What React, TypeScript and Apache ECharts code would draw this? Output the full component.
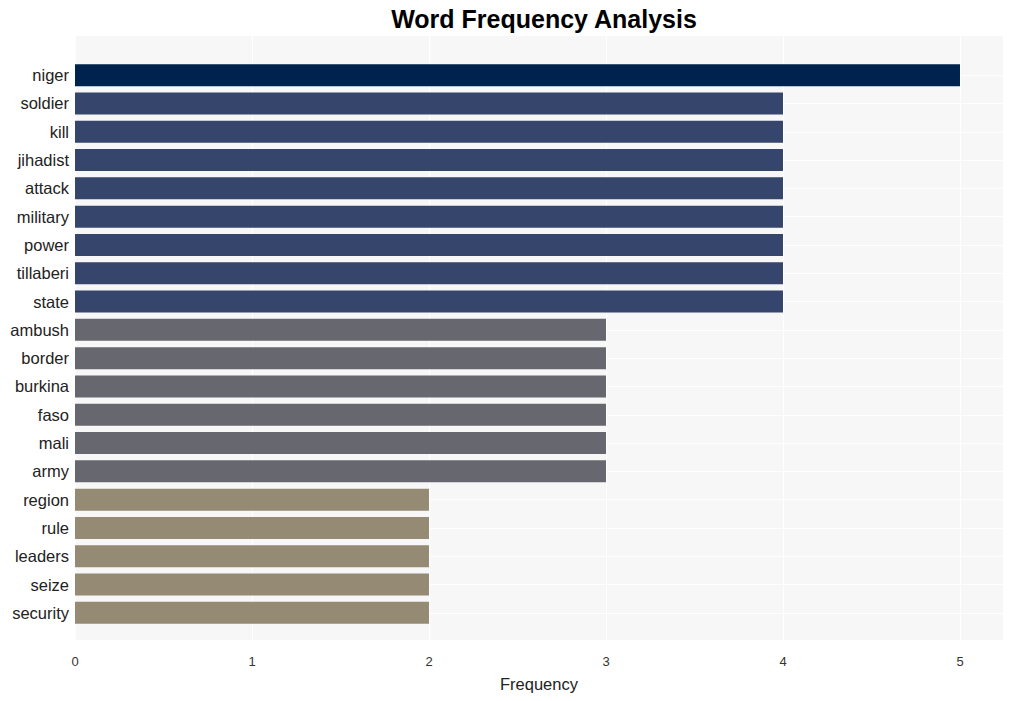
import React, { useEffect, useRef } from "react";
import * as echarts from "echarts";

const categories = [
  "niger", "soldier", "kill", "jihadist", "attack", "military", "power", "tillaberi", "state",
  "ambush", "border", "burkina", "faso", "mali", "army",
  "region", "rule", "leaders", "seize", "security",
];
const frequencies = [5, 4, 4, 4, 4, 4, 4, 4, 4, 3, 3, 3, 3, 3, 3, 2, 2, 2, 2, 2];
const xTicks = [0, 1, 2, 3, 4, 5];

const colorFor = (v: number) =>
  v >= 5 ? "#00224e" : v >= 4 ? "#35456b" : v >= 3 ? "#67686f" : "#958b75";

export default function App() {
  const ref = useRef<HTMLDivElement>(null);
  useEffect(() => {
    if (!ref.current) return;
    const chart = echarts.init(ref.current, null, { renderer: "svg" });
    const xMax = 5.243;
    const font = "'Liberation Sans', Arial, sans-serif";
    chart.setOption({
      animation: false,
      textStyle: { fontFamily: font },
      title: {
        text: "Word Frequency Analysis",
        left: 539,
        top: 1,
        textAlign: "center",
        textStyle: { fontSize: 25, fontWeight: "bold", color: "#000", fontFamily: font },
      },
      grid: [
        { left: 75, right: 11, top: 36, bottom: 61, show: true, backgroundColor: "#f7f7f7", borderWidth: 0 },
        { left: 75, right: 11, top: 61, bottom: 74, show: false },
      ],
      xAxis: [
        {
          gridIndex: 0,
          type: "value",
          min: 0,
          max: xMax,
          interval: 1,
          name: "Frequency",
          nameLocation: "middle",
          nameGap: 35,
          nameTextStyle: { fontSize: 16.5, color: "#222" },
          axisLine: { show: false },
          axisTick: { show: false },
          axisLabel: {
            fontSize: 13,
            color: "#333",
            margin: 15,
            formatter: (v: number) => (xTicks.includes(v) ? String(v) : ""),
          },
          splitLine: { show: true, lineStyle: { color: "#ffffff", width: 1 } },
        },
        {
          gridIndex: 1,
          type: "value",
          min: 0,
          max: xMax,
          show: false,
          splitLine: { show: false },
        },
      ],
      yAxis: [
        {
          gridIndex: 0,
          type: "value",
          show: false,
          splitLine: { show: false },
        },
        {
          gridIndex: 1,
          type: "category",
          data: categories,
          inverse: true,
          axisLine: { show: false },
          axisTick: { show: false, alignWithLabel: true },
          axisLabel: { fontSize: 16.5, color: "#222", margin: 6 },
          splitLine: { show: true, alignWithLabel: true, lineStyle: { color: "#ffffff", width: 1 } },
        },
      ],
      series: [
        {
          type: "bar",
          xAxisIndex: 1,
          yAxisIndex: 1,
          barWidth: 22,
          data: frequencies.map((v) => ({ value: v, itemStyle: { color: colorFor(v) } })),
        },
      ],
    });
    return () => chart.dispose();
  }, []);
  return (
    <div
      ref={ref}
      style={{ position: "absolute", left: 0, top: 0, width: 1014, height: 701, background: "#fff" }}
    />
  );
}
